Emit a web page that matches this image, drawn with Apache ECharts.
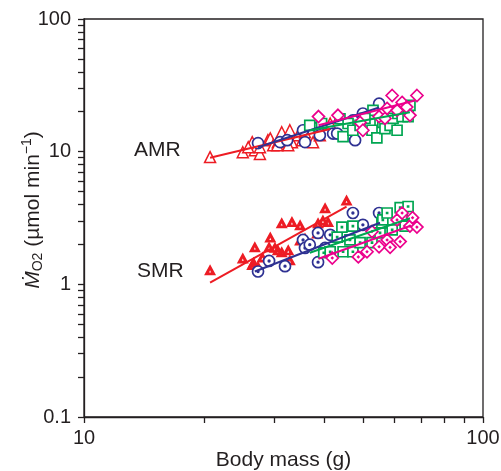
<!DOCTYPE html>
<html><head><meta charset="utf-8">
<script src="https://cdn.jsdelivr.net/npm/echarts@6/dist/echarts.min.js"></script>
<style>html,body{margin:0;padding:0;background:#fff}#c{width:501px;height:471px}</style>
</head><body><div id="c"></div>
<script>
// ---- axis ticks ----
const xMajorTicks = [10, 100];
const xMinorTicks = [20, 30, 40, 50, 60, 70, 80, 90];
const yMajorTicks = [0.1, 1, 10, 100];
const yMinorTicks = [0.2, 0.3, 0.4, 0.5, 0.6, 0.7, 0.8, 0.9, 2, 3, 4, 5, 6, 7, 8, 9, 20, 30, 40, 50, 60, 70, 80, 90];

// ---- AMR data (body mass g, MO2 umol/min) ----
const amrRed = [[20.7,9.1],[25.0,9.9],[26.4,11.8],[26.8,10.25],[27.6,9.6],[28.9,12.2],[29.3,12.6],[29.8,11.2],[30.6,11.8],[31.3,14.0],[32.8,14.5],[33.2,11.8],[34.4,13.3],[35.2,12.2],[35.8,14.0],[37.5,11.8],[39.0,13.3],[41.4,16.3],[27.6,10.8],[25.8,10.8],[30.5,11.2],[32.5,11.2]];
const amrBlue = [[27.3,11.6],[31.0,11.8],[32.3,12.2],[35.4,14.5],[35.8,11.8],[38.6,15.2],[39.0,13.3],[42.1,13.7],[43.1,13.7],[47.8,12.2],[48.3,17.2],[50.0,19.4],[54.9,23.0],[47.2,17.2]];
const amrGreen = [[36.8,15.8],[39.4,16.3],[43.8,17.7],[44.6,13.0],[45.9,16.3],[47.2,14.5],[49.2,15.8],[52.1,16.3],[52.7,14.5],[53.0,20.5],[54.2,12.7],[56.1,16.6],[56.8,14.9],[58.5,15.8],[59.5,17.8],[60.9,14.5],[61.2,19.4],[62.7,18.4],[64.9,18.4],[65.6,22.3],[50.6,17.8]];
const amrMagenta = [[38.7,18.4],[43.3,18.8],[49.2,16.6],[50.0,14.5],[54.9,18.4],[56.8,17.8],[57.5,21.2],[59.2,26.5],[60.9,20.5],[62.7,23.5],[64.4,21.7],[65.6,18.8],[68.3,26.5]];

// ---- SMR data ----
const smrRed = [[20.7,1.29],[25.0,1.58],[26.4,1.41],[26.6,1.47],[26.8,1.92],[27.3,1.37],[28.0,1.61],[29.1,1.92],[29.3,2.27],[30.1,1.90],[30.6,1.82],[31.3,1.76],[31.3,2.91],[32.5,1.82],[32.8,1.53],[33.2,2.97],[34.8,2.81],[34.8,2.16],[35.8,2.23],[38.4,2.44],[38.6,2.91],[39.7,3.06],[40.2,3.78],[40.9,2.97],[45.5,4.32]];
const smrBlue = [[27.3,1.25],[29.1,1.50],[31.9,1.37],[35.4,2.16],[35.8,1.88],[38.6,2.44],[38.6,1.47],[41.4,2.36],[47.2,3.45],[50.0,2.81],[54.9,3.45],[36.8,1.99],[40.2,1.88]];
const smrGreen = [[39.9,1.73],[41.4,1.76],[43.1,2.27],[44.3,2.70],[44.6,1.76],[47.2,2.75],[47.2,1.76],[49.2,2.06],[52.7,2.06],[55.2,2.44],[55.8,2.91],[56.1,3.06],[57.5,3.45],[59.2,2.57],[62.0,3.78],[62.7,3.06],[63.8,2.75],[64.9,3.86],[46.4,2.16]];
const smrMagenta = [[41.9,1.58],[48.7,1.61],[51.2,1.76],[54.9,1.92],[57.5,2.16],[58.5,1.90],[62.0,2.10],[60.9,3.06],[62.7,3.45],[65.6,2.75],[66.6,3.18],[68.3,2.70],[52.7,2.50]];

// ---- fitted regression lines (end points) ----
const amrRedFit = [[20.7,9.0],[41.4,14.8]];
const amrBlueFit = [[27.3,10.8],[54.9,21.5]];
const amrGreenFit = [[36.8,14.5],[65.6,19.8]];
const amrMagentaFit = [[38.7,15.8],[67.5,24.3]];
const smrRedFit = [[20.7,1.03],[45.5,3.85]];
const smrBlueFit = [[26.8,1.25],[55.2,2.91]];
const smrGreenFit = [[36.8,1.73],[65.6,3.15]];
const smrMagentaFit = [[38.7,1.56],[65.6,2.75]];

const RED = '#ed1c24', BLUE = '#2e3192', GREEN = '#00a651', MAGENTA = '#ec008c';
const INK = '#231f20';
const FONT = "'Liberation Sans', Arial, Helvetica, sans-serif";

const circleDot = 'path://M0,10A10,10,0,1,1,20,10A10,10,0,1,1,0,10ZM8.5,10A1.5,1.5,0,1,1,11.5,10A1.5,1.5,0,1,1,8.5,10Z';
const squareDot = 'path://M0,0L20,0L20,20L0,20ZM9,9L11,9L11,11L9,11Z';
const diamondDot = 'path://M10,0L20,10L10,20L0,10ZM10,9L11,10L10,11L9,10Z';
const triHole = 'path://M10,0L20,18L0,18ZM10,10L8.4,13.6L11.6,13.6Z';

function pts(data, symbol, size, stroke, fill, bw, z) {
  return {type:'scatter', data, symbol, symbolSize:size, z,
    itemStyle:{color:fill, borderColor:stroke, borderWidth:bw, opacity:1}, silent:true};
}
function fit(data, color) {
  return {type:'line', data, showSymbol:false, symbol:'none', z:10, silent:true,
    lineStyle:{color, width:2}};
}
const fmt = v => String(+(+v).toPrecision(3));

const chart = echarts.init(document.getElementById('c'));
chart.setOption({
  animation:false,
  backgroundColor:'#fff',
  grid:{left:84, right:18, top:19, bottom:54, show:true, borderColor:INK, borderWidth:1.3,
        backgroundColor:'transparent', containLabel:false, outerBoundsMode:'none'},
  xAxis:{type:'log', logBase:10, min:10, max:100, position:'bottom',
     axisLine:{show:true, onZero:false, lineStyle:{color:INK, width:1.3}},
     axisTick:{show:true, inside:false, customValues:xMajorTicks.concat(xMinorTicks), length:6, lineStyle:{color:INK, width:1.3}},
     axisLabel:{show:true, formatter:fmt, color:INK, fontSize:20, fontFamily:FONT, margin:11},
     splitLine:{show:false}, minorTick:{show:false},
     name:'Body mass (g)', nameLocation:'middle', nameGap:33, nameMoveOverlap:false,
     nameTextStyle:{color:INK, fontSize:21, fontFamily:FONT}},
  yAxis:{type:'log', logBase:10, min:0.1, max:100, position:'left',
     axisLine:{show:true, onZero:false, lineStyle:{color:INK, width:1.3}},
     axisTick:{show:true, inside:false, customValues:yMajorTicks.concat(yMinorTicks), length:6, lineStyle:{color:INK, width:1.3}},
     axisLabel:{show:true, formatter:fmt, color:INK, fontSize:20, fontFamily:FONT, margin:13},
     splitLine:{show:false},
     name:'{m|Ṁ}{s|O2}{n| (µmol min}{p|−1}{n|)}', nameLocation:'middle', nameGap:38, nameMoveOverlap:false,
     nameTextStyle:{color:INK, fontSize:21, fontFamily:FONT, padding:[0,0,0,16], rich:{
       m:{fontSize:21, fontStyle:'italic', fontFamily:FONT, color:INK, lineHeight:26, verticalAlign:'middle'},
       s:{fontSize:14, fontFamily:FONT, color:INK, lineHeight:26, verticalAlign:'bottom', padding:[0,0,1,0]},
       n:{fontSize:21, fontFamily:FONT, color:INK, lineHeight:26, verticalAlign:'middle'},
       p:{fontSize:14, fontFamily:FONT, color:INK, lineHeight:26, verticalAlign:'top'}
     }}},
  graphic:[
    {type:'text', left:134, top:140, style:{text:'AMR', font:"21px 'Liberation Sans', Arial, sans-serif", fill:INK}, silent:true},
    {type:'text', left:137, top:261, style:{text:'SMR', font:"21px 'Liberation Sans', Arial, sans-serif", fill:INK}, silent:true}
  ],
  series:[
    pts(amrRed, 'triangle', 11, RED, '#fff', 1.5, 2),
    pts(amrBlue, 'circle', 11, BLUE, '#fff', 1.7, 3),
    pts(amrGreen, 'rect', 10, GREEN, '#fff', 1.7, 3),
    pts(amrMagenta, 'diamond', 12, MAGENTA, '#fff', 1.7, 4),
    pts(smrRed, triHole, [12,11], RED, RED, 0, 2),
    pts(smrBlue, circleDot, 11, BLUE, '#fff', 1.7, 3),
    pts(smrGreen, squareDot, 10, GREEN, '#fff', 1.7, 3),
    pts(smrMagenta, diamondDot, 12, MAGENTA, '#fff', 1.7, 4),
    fit(amrRedFit, RED), fit(amrBlueFit, BLUE), fit(amrGreenFit, GREEN), fit(amrMagentaFit, MAGENTA),
    fit(smrRedFit, RED), fit(smrBlueFit, BLUE), fit(smrGreenFit, GREEN), fit(smrMagentaFit, MAGENTA)
  ]
});
</script></body></html>
